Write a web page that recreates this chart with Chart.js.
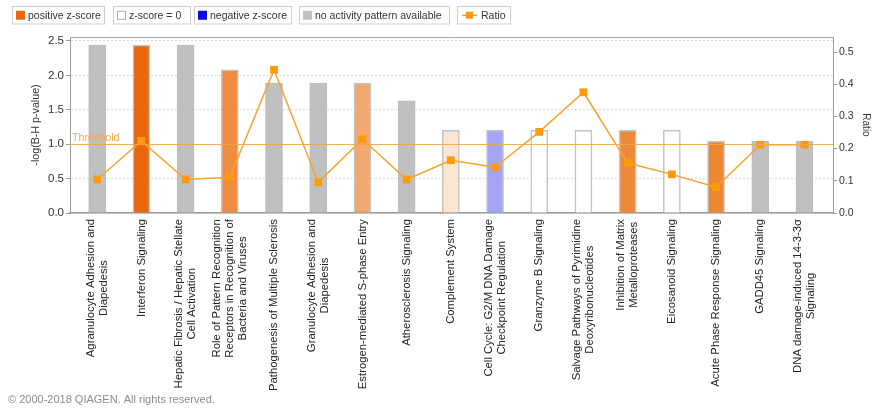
<!DOCTYPE html>
<html>
<head>
<meta charset="utf-8">
<title>Canonical pathways</title>
<script src="https://cdn.jsdelivr.net/npm/chart.js@4/dist/chart.umd.min.js"></script>
<style>
  html, body { margin: 0; padding: 0; background: #fff; }
  #wrap { position: relative; width: 873px; height: 408px; }
</style>
</head>
<body>
<div id="wrap"><canvas id="c" width="873" height="408"></canvas></div>
<script>
// Pathway names, one array entry per wrapped label line
const pathways = [
  ['Agranulocyte Adhesion and', 'Diapedesis'],
  ['Interferon Signaling'],
  ['Hepatic Fibrosis / Hepatic Stellate', 'Cell Activation'],
  ['Role of Pattern Recognition', 'Receptors in Recognition of', 'Bacteria and Viruses'],
  ['Pathogenesis of Multiple Sclerosis'],
  ['Granulocyte Adhesion and', 'Diapedesis'],
  ['Estrogen-mediated S-phase Entry'],
  ['Atherosclerosis Signaling'],
  ['Complement System'],
  ['Cell Cycle: G2/M DNA Damage', 'Checkpoint Regulation'],
  ['Granzyme B Signaling'],
  ['Salvage Pathways of Pyrimidine', 'Deoxyribonucleotides'],
  ['Inhibition of Matrix', 'Metalloproteases'],
  ['Eicosanoid Signaling'],
  ['Acute Phase Response Signaling'],
  ['GADD45 Signaling'],
  ['DNA damage-induced 14-3-3σ', 'Signaling']
];

// -log(B-H p-value) per pathway
const negLogP = [2.44, 2.44, 2.44, 2.08, 1.89, 1.89, 1.89, 1.63, 1.20, 1.20, 1.20, 1.20, 1.20, 1.20, 1.04, 1.04, 1.04];

// Ratio of overlapping molecules per pathway
const ratio = [0.104, 0.224, 0.104, 0.111, 0.445, 0.095, 0.229, 0.104, 0.164, 0.142, 0.252, 0.375, 0.155, 0.120, 0.080, 0.212, 0.212];

// Significance threshold on the -log(p) axis
const threshold = 1.0;

// Axis ticks
const leftTicks = [0, 0.5, 1.0, 1.5, 2.0, 2.5];
const rightTicks = [0, 0.1, 0.2, 0.3, 0.4, 0.5];

// Bar fills by activation z-score
const barFill = ['#c0c0c0', '#e9680f', '#c0c0c0', '#ee8d40', '#c0c0c0', '#c0c0c0', '#f2a86e', '#c0c0c0',
                 '#fce5d3', '#a4a4f7', '#ffffff', '#ffffff', '#ed8a37', '#ffffff', '#ed8832', '#c0c0c0', '#c0c0c0'];

const legendItems = [
  { text: 'positive z-score', fill: '#e9680f', stroke: null, left: 12, width: 92 },
  { text: 'z-score = 0', fill: '#ffffff', stroke: '#aaaaaa', left: 113, width: 77 },
  { text: 'negative z-score', fill: '#0a0ae6', stroke: null, left: 194, width: 97 },
  { text: 'no activity pattern available', fill: '#c0c0c0', stroke: null, left: 299, width: 150 },
  { text: 'Ratio', line: true, left: 457, width: 53 }
];

const FONT = '"Liberation Sans", Arial, sans-serif';
const ORANGE_LINE = '#f6a52c';
const ORANGE_POINT = '#ff9a0f';

const decorations = {
  id: 'decorations',
  afterDatasetsDraw(chart) {
    const { ctx, chartArea: a, scales: { y } } = chart;
    const ty = Math.round(y.getPixelForValue(threshold)) + 0.5;
    ctx.save();
    ctx.strokeStyle = 'rgba(246,165,60,0.85)';
    ctx.lineWidth = 1;
    ctx.beginPath();
    ctx.moveTo(a.left, ty);
    ctx.lineTo(a.right, ty);
    ctx.stroke();
    ctx.font = '10.7px ' + FONT;
    ctx.fillStyle = '#f6a849';
    ctx.textAlign = 'left';
    ctx.textBaseline = 'middle';
    ctx.fillText('Threshold', a.left + 2, ty - 6.5);
    ctx.restore();
  },
  afterDraw(chart) {
    const { ctx, chartArea: a, scales: { x } } = chart;
    ctx.save();
    // top edge of the plot frame
    ctx.strokeStyle = '#a8a8a8';
    ctx.lineWidth = 1;
    ctx.beginPath();
    ctx.moveTo(a.left, a.top + 0.5);
    ctx.lineTo(a.right, a.top + 0.5);
    ctx.stroke();

    // rotated pathway labels, lines centred within each block
    ctx.font = '11.3px ' + FONT;
    ctx.fillStyle = '#222';
    ctx.textAlign = 'center';
    ctx.textBaseline = 'middle';
    const lh = 13.3;
    pathways.forEach((lines, i) => {
      const px = x.getPixelForValue(i);
      const maxW = Math.max(...lines.map(l => ctx.measureText(l).width));
      ctx.save();
      ctx.translate(px, a.bottom + 6 + maxW / 2);
      ctx.rotate(-Math.PI / 2);
      lines.forEach((l, k) => ctx.fillText(l, 0, (k - (lines.length - 1) / 2) * lh));
      ctx.restore();
    });

    // legend
    ctx.font = '10.5px ' + FONT;
    ctx.textAlign = 'left';
    ctx.textBaseline = 'middle';
    const top = 6, h = 17.5, cy = top + h / 2;
    legendItems.forEach(it => {
      ctx.strokeStyle = '#cfcfcf';
      ctx.lineWidth = 1;
      ctx.strokeRect(it.left + 0.5, top + 0.5, it.width, h);
      if (it.line) {
        ctx.strokeStyle = ORANGE_LINE;
        ctx.lineWidth = 1.5;
        ctx.beginPath();
        ctx.moveTo(it.left + 5, cy + 0.5);
        ctx.lineTo(it.left + 20, cy + 0.5);
        ctx.stroke();
        ctx.fillStyle = ORANGE_POINT;
        ctx.fillRect(it.left + 9, cy - 3, 7, 7);
        ctx.fillStyle = '#333';
        ctx.fillText(it.text, it.left + 24, cy + 1);
      } else {
        ctx.fillStyle = it.fill;
        ctx.fillRect(it.left + 4, cy - 4, 9, 9);
        if (it.stroke) {
          ctx.strokeStyle = it.stroke;
          ctx.strokeRect(it.left + 4.5, cy - 3.5, 8, 8);
        }
        ctx.fillStyle = '#333';
        ctx.fillText(it.text, it.left + 16, cy + 1);
      }
    });

    // footer
    ctx.font = '11px ' + FONT;
    ctx.fillStyle = '#8c8c8c';
    ctx.fillText('© 2000-2018 QIAGEN. All rights reserved.', 8, 400);
    ctx.restore();
  }
};

new Chart(document.getElementById('c'), {
  data: {
    datasets: [
      {
        type: 'line',
        label: 'Ratio',
        yAxisID: 'y2',
        order: 0,
        data: ratio.map((v, i) => ({ x: i, y: v })),
        borderColor: ORANGE_LINE,
        borderWidth: 1.5,
        pointStyle: 'rect',
        pointRadius: 5.5,
        pointBackgroundColor: ORANGE_POINT,
        pointBorderWidth: 0,
        tension: 0
      },
      {
        type: 'bar',
        label: '-log(B-H p-value)',
        yAxisID: 'y',
        order: 1,
        data: negLogP.map((v, i) => ({ x: i, y: v })),
        backgroundColor: barFill,
        borderColor: barFill.map(c => c === '#c0c0c0' ? '#bdbdbd' : '#c3c3c3'),
        borderWidth: 1.5,
        borderSkipped: 'bottom',
        barThickness: 17
      }
    ]
  },
  options: {
    responsive: false,
    animation: false,
    devicePixelRatio: 1,
    layout: { padding: { top: 37, left: 0, right: 0, bottom: 0 }, autoPadding: false },
    plugins: { legend: { display: false }, tooltip: { enabled: false } },
    scales: {
      x: {
        type: 'linear',
        position: 'bottom',
        offset: false,
        min: -0.615,
        max: 16.645,
        afterFit(s) { s.height = 195; },
        afterBuildTicks(s) { s.ticks = pathways.map((_, i) => ({ value: i })); },
        ticks: { display: false },
        grid: { display: false, offset: false },
        border: { display: true, color: '#9a9a9a', width: 1.5 }
      },
      y: {
        position: 'left',
        min: 0,
        max: 2.558,
        afterFit(s) { s.width = 70; },
        afterBuildTicks(s) { s.ticks = leftTicks.map(v => ({ value: v })); },
        ticks: {
          callback: v => v.toFixed(1),
          font: { family: FONT, size: 11.5 },
          color: '#333',
          padding: 2
        },
        grid: {
          color: '#d8d8d8',
          lineWidth: 1,
          tickColor: '#9a9a9a',
          tickLength: 4,
          tickBorderDash: [],
          borderDash: [2, 2]
        },
        border: { display: true, color: '#9a9a9a', width: 1, dash: [2, 2] },
        title: {
          display: true,
          text: '-log(B-H p-value)',
          font: { family: FONT, size: 10.7 },
          color: '#333',
          padding: { top: 30, bottom: 0 }
        }
      },
      y2: {
        position: 'right',
        min: 0,
        max: 0.5466,
        afterFit(s) { s.width = 40; },
        afterBuildTicks(s) { s.ticks = rightTicks.map(v => ({ value: v })); },
        ticks: {
          callback: v => v.toFixed(1),
          font: { family: FONT, size: 10.5 },
          color: '#333',
          padding: 2
        },
        grid: {
          drawOnChartArea: false,
          tickColor: '#9a9a9a',
          tickLength: 4,
          tickBorderDash: []
        },
        border: { display: true, color: '#9a9a9a', width: 1 },
        title: {
          display: true,
          text: 'Ratio',
          font: { family: FONT, size: 10 },
          color: '#333',
          padding: { top: 1, bottom: 0 }
        }
      }
    }
  },
  plugins: [decorations]
});
</script>
</body>
</html>
